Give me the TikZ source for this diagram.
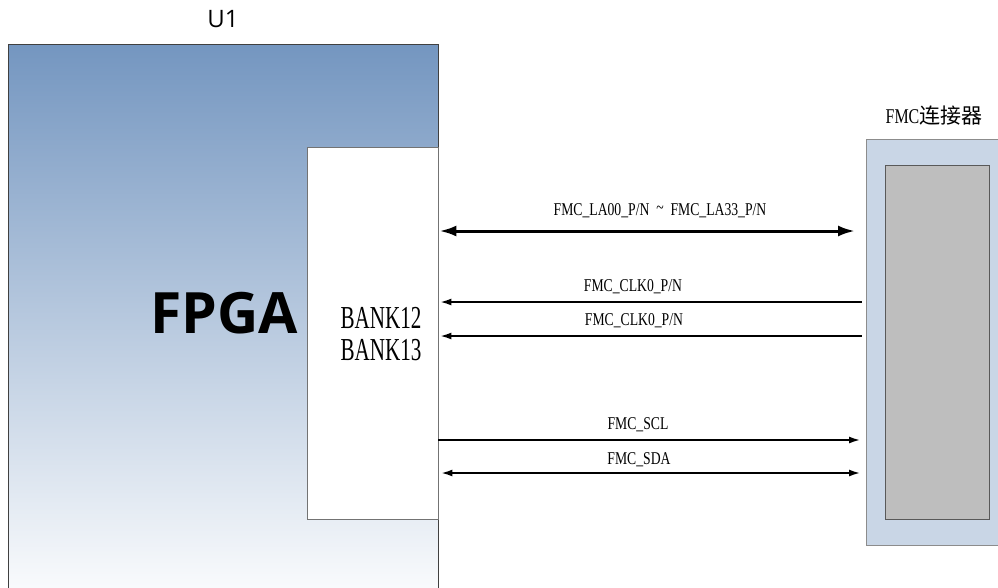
\documentclass[tikz,border=0pt]{standalone}
\usepackage{fontspec}
\setmainfont{Liberation Serif}
\newfontfamily\uisans{Open Sans}
\newfontfamily\sigfont[FakeStretch=0.76]{Liberation Serif}
\newfontfamily\bankfont[FakeStretch=0.66]{Liberation Serif}
\newfontfamily\cjk{Noto Sans CJK SC}
\usetikzlibrary{arrows.meta,positioning}
\definecolor{fpgatop}{RGB}{116,150,192}
\definecolor{connblue}{RGB}{201,214,230}
\definecolor{conngray}{RGB}{190,190,190}

\begin{document}
\begin{tikzpicture}[x=1pt,y=-1pt,
  bus/.style={line width=3pt,{Latex[length=17pt,width=11pt]}-{Latex[length=17pt,width=11pt]}},
  sig/.style={line width=1.6pt,>={Latex[length=11pt,width=7pt]}},
  siglabel/.style={font=\sigfont\fontsize{18}{18}\selectfont,inner sep=0pt},
  box/.style={anchor=north west,inner sep=0pt}]
  \useasboundingbox (0,0) rectangle (998,587);
  \clip (0,0) rectangle (998,587);
  % FPGA side
  \node[box,draw=black!75,top color=fpgatop,bottom color=white,
        minimum width=430pt,minimum height=570pt] (u1) at (8,44) {};
  \node[font=\uisans\fontsize{24}{24}\selectfont] (u1name) at (223,19) {U1};
  \node[box,draw=black!55,fill=white,minimum width=131pt,minimum height=372pt] (bank) at (307,147) {};
  \node[font=\uisans\bfseries\fontsize{57}{57}\selectfont] (fpga) at (224,313) {FPGA};
  \node[font=\bankfont\fontsize{32}{32}\selectfont,align=center] (banks) at (381,334) {BANK12\\BANK13};
  % connector side
  \node[box,draw=black!45,fill=connblue,minimum width=150pt,minimum height=406pt] (conn) at (866,139) {};
  \node[box,draw=black!65,fill=conngray,minimum width=104pt,minimum height=354pt] (slot) at (885,165) {};
  \node[font=\sigfont\fontsize{21}{21}\selectfont] (connname) at (934,116) {FMC{\cjk 连接器}};
  % signals
  \draw[bus] ([xshift=1pt]bank.east |- 0,231) -- ([xshift=-11pt]conn.west |- 0,231);
  \node[siglabel] (la) at (660,211) {FMC\_LA00\_P/N\ \ \raisebox{2pt}{\~{}}\ \ FMC\_LA33\_P/N};
  \foreach \y/\lx in {302/633,336/634}{
    \draw[sig,<-] ([xshift=2pt]bank.east |- 0,\y) -- ([xshift=-4pt]conn.west |- 0,\y);
    \node[siglabel] at (\lx,\y-15) {FMC\_CLK0\_P/N};
  }
  \draw[sig,->] (bank.east |- 0,440) -- ([xshift=-6pt]conn.west |- 0,440);
  \node[siglabel] (scl) at (638,425) {FMC\_SCL};
  \draw[sig,<->] ([xshift=3pt]bank.east |- 0,473) -- ([xshift=-6pt]conn.west |- 0,473);
  \node[siglabel] (sda) at (639,460) {FMC\_SDA};
\end{tikzpicture}
\end{document}
